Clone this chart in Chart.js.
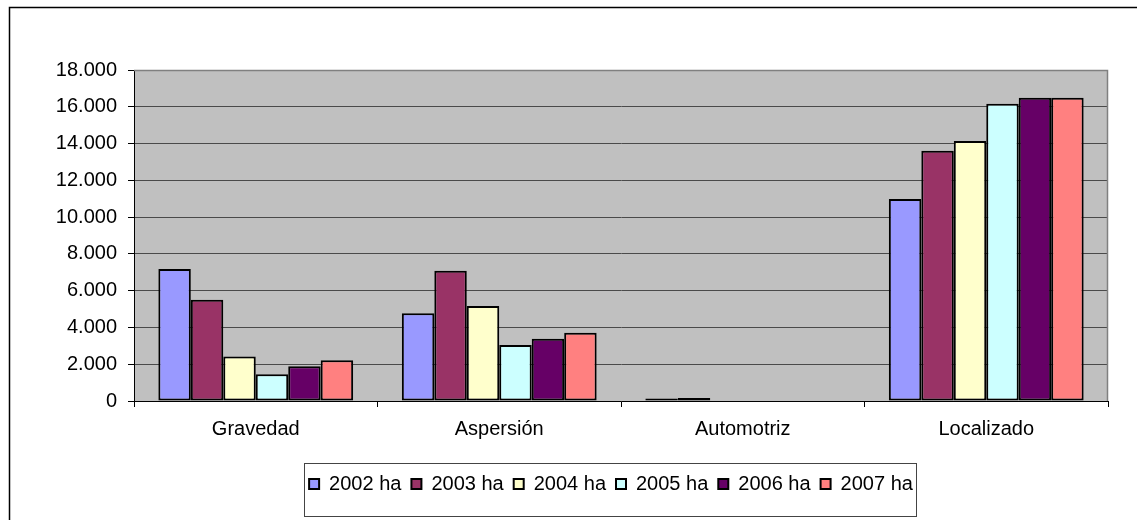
<!DOCTYPE html>
<html>
<head>
<meta charset="utf-8">
<script src="https://cdn.jsdelivr.net/npm/chart.js@4/dist/chart.umd.min.js"></script>
<style>
  html, body { margin: 0; padding: 0; background: #fff; }
  #wrap { width: 1137px; height: 520px; }
</style>
</head>
<body>
<div id="wrap"><canvas id="chart" width="1137" height="520"></canvas></div>
<script>
// datos
const categories = ['Gravedad', 'Aspersión', 'Automotriz', 'Localizado'];
const seriesLabels = ['2002 ha', '2003 ha', '2004 ha', '2005 ha', '2006 ha', '2007 ha'];
const ha2002 = [7180, 4770, 130, 10990];
const ha2003 = [5500, 7080, 160, 13610];
const ha2004 = [2420, 5170, 0, 14140];
const ha2005 = [1460, 3050, 0, 16170];
const ha2006 = [1890, 3380, 0, 16490];
const ha2007 = [2220, 3710, 0, 16490];
const yTickLabels = ['0', '2.000', '4.000', '6.000', '8.000', '10.000', '12.000', '14.000', '16.000', '18.000'];

const seriesColors = ['#9999FF', '#993366', '#FFFFCC', '#CCFFFF', '#660066', '#FF8080'];
const seriesValues = [ha2002, ha2003, ha2004, ha2005, ha2006, ha2007];

const FONT = "'Liberation Sans', Arial, sans-serif";

// fondo gris del area de trazado, borde exterior y marco de la leyenda
const excelFrame = {
  id: 'excelFrame',
  afterLayout(chart) {
    // la leyenda de Excel queda algo a la derecha
    const lg = chart.legend;
    lg.left += 57;
    lg.right += 57;
  },
  beforeDraw(chart) {
    const { ctx, chartArea: a } = chart;
    ctx.save();
    ctx.fillStyle = '#fff';
    ctx.fillRect(0, 0, chart.width, chart.height);
    ctx.fillStyle = '#C0C0C0';
    ctx.fillRect(a.left, a.top, a.right - a.left, a.bottom - a.top);
    ctx.restore();
  },
  afterDraw(chart) {
    const { ctx, chartArea: a } = chart;
    ctx.save();
    // borde gris arriba y derecha
    ctx.strokeStyle = '#808080';
    ctx.lineWidth = 1.5;
    ctx.beginPath();
    ctx.moveTo(a.left, a.top + 0.5);
    ctx.lineTo(a.right - 0.5, a.top + 0.5);
    ctx.lineTo(a.right - 0.5, a.bottom);
    ctx.stroke();
    // borde exterior del grafico
    ctx.strokeStyle = '#000';
    ctx.lineWidth = 1.5;
    ctx.strokeRect(9.5, 7.5, 1200, 600);
    // marco de la leyenda
    const lg = chart.legend;
    const boxes = lg.legendHitBoxes || [];
    if (boxes.length) {
      const left = Math.min(...boxes.map(b => b.left));
      const right = Math.max(...boxes.map(b => b.left + b.width));
      ctx.strokeStyle = '#444';
      ctx.lineWidth = 1;
      ctx.strokeRect(Math.round(left) - 4.5, Math.round(lg.top) - 0.5, Math.round(right - left) + 8, 53);
    }
    ctx.restore();
  }
};

new Chart(document.getElementById('chart'), {
  type: 'bar',
  data: {
    labels: categories,
    datasets: seriesLabels.map((label, i) => ({
      label: label,
      data: seriesValues[i],
      backgroundColor: seriesColors[i],
      borderColor: '#000',
      borderWidth: 2,
      borderSkipped: false,
      categoryPercentage: 0.8,
      barPercentage: 1.0
    }))
  },
  options: {
    responsive: false,
    animation: false,
    layout: { padding: { left: 0, right: 29, top: 70, bottom: 16 } },
    scales: {
      x: {
        grid: {
          offset: true,
          drawOnChartArea: false,
          tickLength: 6,
          tickColor: '#000'
        },
        border: { color: '#000', width: 1 },
        ticks: {
          color: '#000',
          padding: 10,
          font: { family: FONT, size: 20 }
        },
        afterFit(scale) { scale.height = 63; }
      },
      y: {
        min: 0,
        max: 18000,
        ticks: {
          stepSize: 2000,
          color: '#000',
          padding: 11,
          font: { family: FONT, size: 20 },
          callback: (v, i) => yTickLabels[i]
        },
        grid: {
          color: '#4a4a4a',
          lineWidth: 1,
          tickLength: 6,
          tickColor: '#000'
        },
        border: { color: '#000', width: 1 },
        afterFit(scale) { scale.width = 134; }
      }
    },
    plugins: {
      legend: {
        position: 'bottom',
        labels: {
          color: '#000',
          boxWidth: 10,
          boxHeight: 10,
          padding: 10,
          font: { family: FONT, size: 20 }
        }
      },
      tooltip: { enabled: false }
    }
  },
  plugins: [excelFrame]
});
</script>
</body>
</html>
